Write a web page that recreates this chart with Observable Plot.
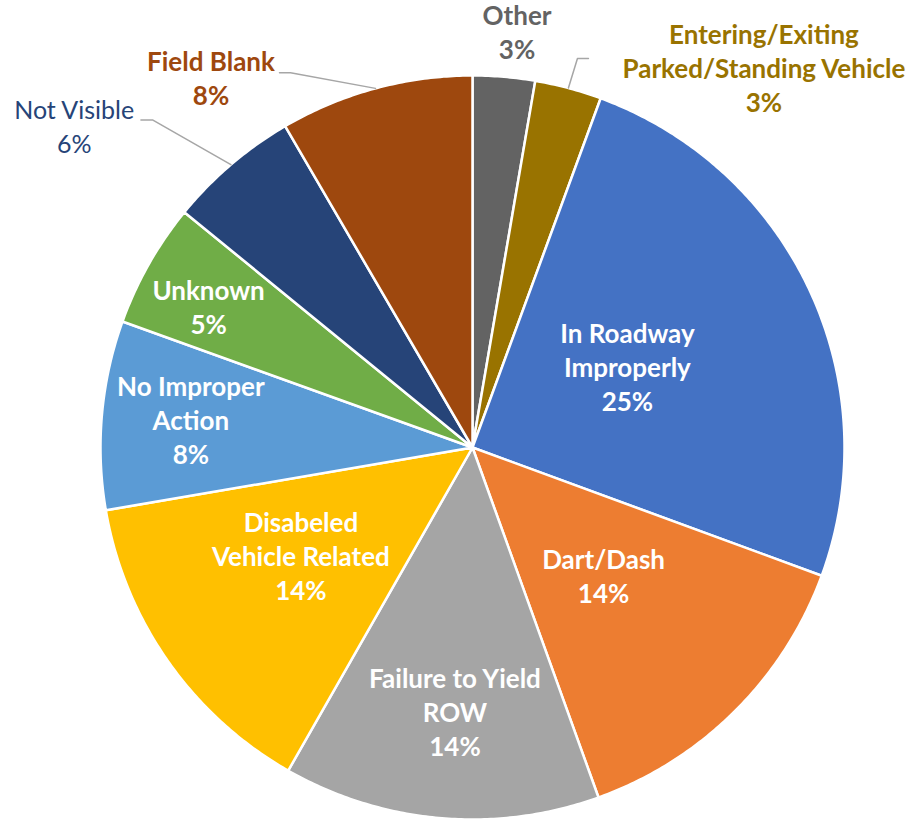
<!DOCTYPE html>
<html>
<head>
<meta charset="utf-8">
<script src="https://cdn.jsdelivr.net/npm/d3@7"></script>
<script src="https://cdn.jsdelivr.net/npm/@observablehq/plot@0.6"></script>
<style>
  html, body { margin: 0; padding: 0; background: #fff; }
  #wrap { position: relative; width: 912px; }
  #title { position: absolute; top: 0; left: 0; height: 8px; overflow: hidden; width: 912px; z-index: 1; }
  #title div { position: absolute; top: -34px; left: 0; width: 912px; text-align: center;
    font: italic bold 33px/33px Lato, "Open Sans", sans-serif; color: #2F5597; white-space: nowrap; }
</style>
</head>
<body>
<div id="wrap">
<div id="title"><div>(Fatality Reported Crashes by Pedestrian Action in Study Area)</div></div>
<div id="chart"></div>
</div>
<script>
// ---- data ----
const categories = ["Other", "Entering/Exiting Parked/Standing Vehicle", "In Roadway Improperly", "Dart/Dash",
  "Failure to Yield ROW", "Disabeled Vehicle Related", "No Improper Action", "Unknown", "Not Visible", "Field Blank"];
const labelLines = ["Other", "Entering/Exiting\nParked/Standing Vehicle", "In Roadway\nImproperly", "Dart/Dash",
  "Failure to Yield\nROW", "Disabeled\nVehicle Related", "No Improper\nAction", "Unknown", "Not Visible", "Field Blank"];
const shares = [2.7, 2.9, 25, 13.9, 13.75, 14.05, 8.2, 5.4, 5.7, 8.4];
const colors = ["#636363", "#997300", "#4472C4", "#ED7D31", "#A5A5A5", "#FFC000", "#5B9BD5", "#70AD47", "#264478", "#9E480E"];

// ---- layout (label placement relative to each slice) ----
const W = 912, H = 819, R = 372, CX = 472, CY = 447;
const placement = {
  "Other": {r: 1.116, da: 1.3, outside: true},
  "Entering/Exiting Parked/Standing Vehicle": {r: 1.28, da: 22.8, outside: true, leader: {ea: 15.1, er: 1.083, len: 11}},
  "In Roadway Improperly": {r: 0.465, da: -1.6},
  "Dart/Dash": {r: 0.50, da: 0},
  "Failure to Yield ROW": {r: 0.72, da: -1.2},
  "Disabeled Vehicle Related": {r: 0.55, da: 2},
  "No Improper Action": {r: 0.76, da: 0},
  "Unknown": {r: 0.80, da: -2},
  "Not Visible": {r: 1.37, da: -10.9, outside: true, regular: true, leader: {ea: 315.7, er: 1.23, len: -12}},
  "Field Blank": {r: 1.21, da: -20.4, outside: true, leader: {ea: 334.1, er: 1.12, len: -11}}
};

const rad = d => d * Math.PI / 180;
const polar = (a, r) => ({x: r * Math.sin(a), y: r * Math.cos(a)});

const arcs = d3.pie().sort(null).value(d => d)(shares);

const slicePts = [];
arcs.forEach((a, i) => {
  const key = categories[i];
  slicePts.push({key, ...polar(0, 0)});
  const n = Math.max(2, Math.ceil((a.endAngle - a.startAngle) / rad(0.5)));
  for (let k = 0; k <= n; k++) {
    const t = a.startAngle + (a.endAngle - a.startAngle) * k / n;
    slicePts.push({key, ...polar(t, 1)});
  }
});

const labels = arcs.map((a, i) => {
  const key = categories[i];
  const p = placement[key];
  const mid = (a.startAngle + a.endAngle) / 2 + rad(p.da);
  return {key, ...polar(mid, p.r), text: labelLines[i] + "\n" + Math.round(shares[i]) + "%", outside: !!p.outside, regular: !!p.regular};
});

const leaders = [];
arcs.forEach((a, i) => {
  const key = categories[i];
  const L = placement[key].leader;
  if (!L) return;
  const mid = (a.startAngle + a.endAngle) / 2;
  const p0 = polar(mid, 1.0), p1 = polar(rad(L.ea), L.er);
  leaders.push({key, ...p0}, {key, ...p1}, {key, x: p1.x + L.len / R, y: p1.y});
});

const font = "Lato, 'Open Sans', sans-serif";
const textOpts = {x: "x", y: "y", text: "text", lineHeight: 1.31, fontFamily: font, dy: -4};
const chart = Plot.plot({
  width: W, height: H,
  margin: 0,
  x: {domain: [-CX / R, (W - CX) / R], range: [0, W], axis: null},
  y: {domain: [-(H - CY) / R, CY / R], range: [H, 0], axis: null},
  color: {domain: categories, range: colors},
  marks: [
    Plot.line(slicePts, {x: "x", y: "y", z: "key", fill: "key", stroke: "white", strokeWidth: 2.5,
      strokeLinejoin: "round", curve: "linear-closed"}),
    Plot.line(leaders, {x: "x", y: "y", z: "key", stroke: "#A6A6A6", strokeWidth: 1.5}),
    Plot.text(labels.filter(d => !d.outside), {...textOpts, fill: "white", fontSize: 26, fontWeight: "bold"}),
    Plot.text(labels.filter(d => d.outside && !d.regular), {...textOpts, fill: "key", fontSize: 26, fontWeight: "bold"}),
    Plot.text(labels.filter(d => d.outside && d.regular), {...textOpts, fill: "key", fontSize: 25, fontWeight: "normal", lineHeight: 1.36})
  ]
});
document.getElementById("chart").appendChild(chart);
</script>
</body>
</html>
